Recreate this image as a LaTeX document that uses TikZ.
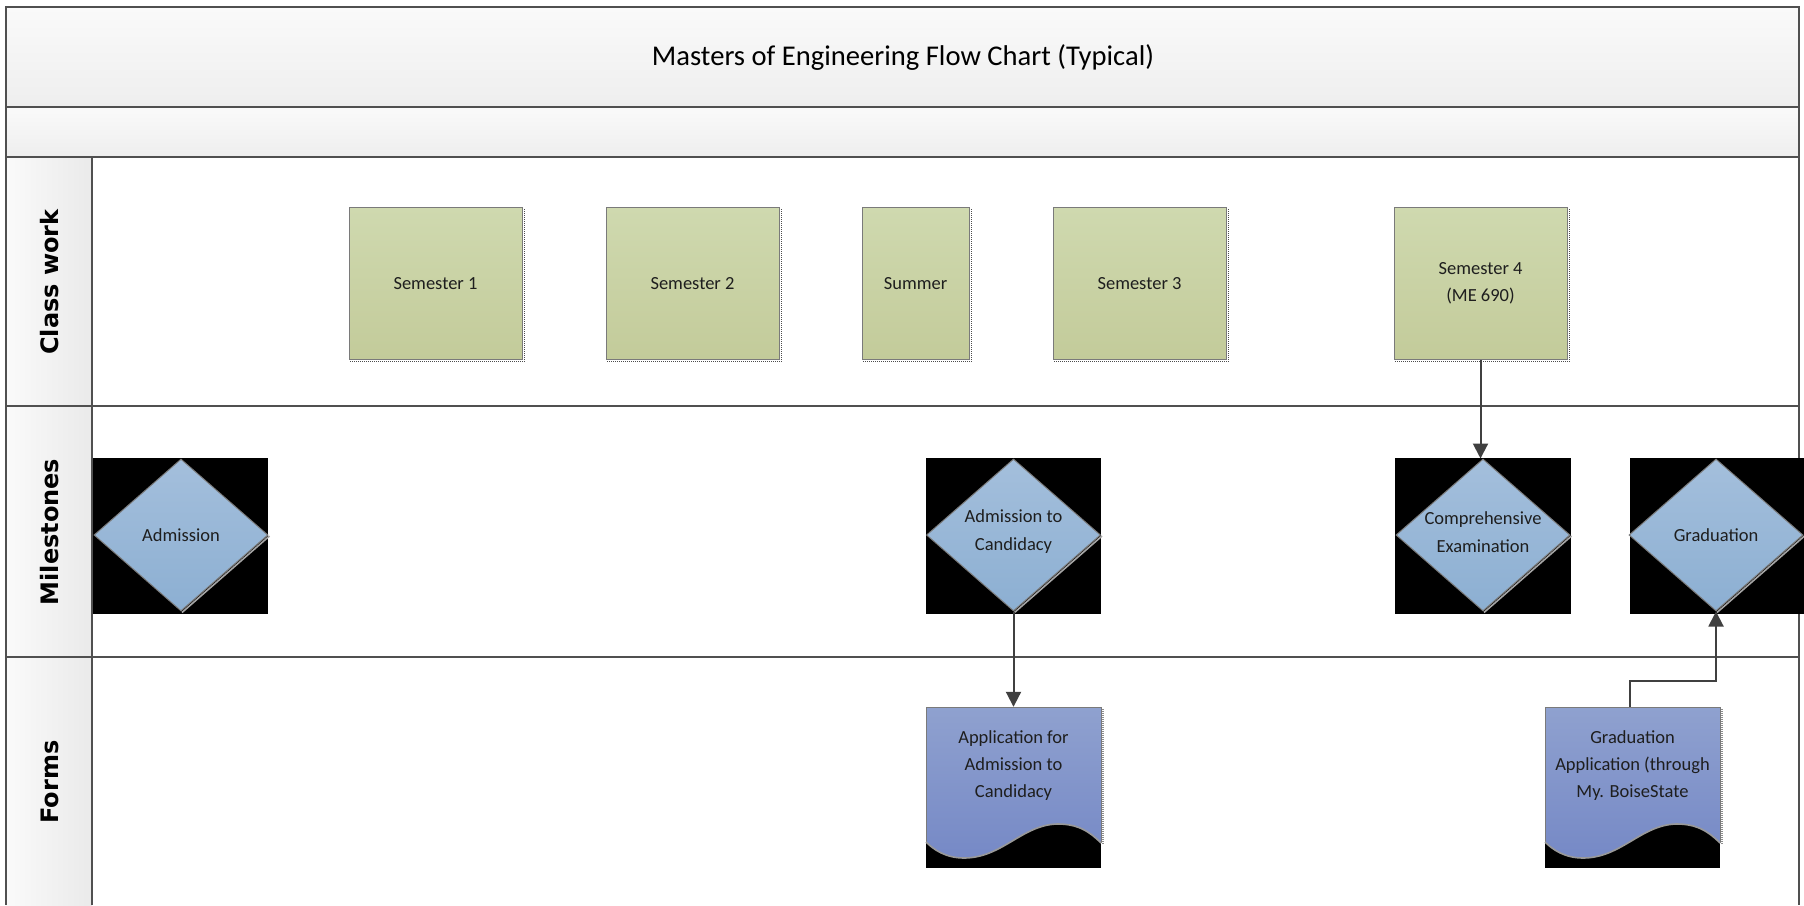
\documentclass[tikz,border=0pt]{standalone}
\usepackage{fontspec}
\setmainfont{Carlito}
\newfontfamily\lanefont{DejaVu Sans}
\usetikzlibrary{shapes.geometric,arrows.meta,calc}
\definecolor{framec}{HTML}{505050}
\definecolor{bandT}{HTML}{FAFAFA}
\definecolor{bandB}{HTML}{EEEEEE}
\definecolor{laneL}{HTML}{FAFAFA}
\definecolor{laneR}{HTML}{EAEAEA}
\definecolor{greenT}{HTML}{CFD9AF}
\definecolor{greenB}{HTML}{C3CB9A}
\definecolor{blueT}{HTML}{A4BFDC}
\definecolor{blueB}{HTML}{8CAFD2}
\definecolor{docT}{HTML}{8FA1CF}
\definecolor{docB}{HTML}{7689C6}
\definecolor{edgec}{HTML}{7A7A7A}
\definecolor{arrc}{HTML}{404040}
\definecolor{txtc}{HTML}{1E1E1E}
\tikzset{
  frameline/.style={draw=framec, line width=2.2pt},
  gbox/.style={rectangle, draw=edgec, line width=1pt, top color=greenT, bottom color=greenB,
    inner sep=0pt, align=center, text=txtc, font=\fontsize{18.5}{27}\selectfont},
  dbox/.style={diamond, draw=edgec, line width=1pt, top color=blueT, bottom color=blueB,
    inner sep=0pt, minimum width=174pt, minimum height=152pt},
  ntext/.style={align=center, text=txtc, inner sep=0pt, font=\fontsize{18.5}{28}\selectfont},
  docnode/.style={rectangle, inner sep=0pt, minimum width=175pt, minimum height=161pt},
  lanelabel/.style={rotate=90, text=black, font=\lanefont\bfseries\fontsize{24}{28}\selectfont},
  arr/.style={draw=arrc, line width=2pt, -{Triangle[width=15pt,length=15pt]}},
}
\newcommand{\mydocshape}[2]{%
  \fill[black] (#1,#2+112) rectangle (#1+175,#2+161);
  \shade[top color=docT,bottom color=docB] (#1,#2) -- (#1+175,#2) -- (#1+175,#2+136)
    .. controls (#1+160,#2+121) and (#1+148,#2+117) .. (#1+131,#2+117)
    .. controls (#1+96,#2+118) and (#1+76,#2+151) .. (#1+38,#2+151)
    .. controls (#1+20,#2+151) and (#1+8,#2+143) .. (#1,#2+135) -- cycle;
  \draw[edgec, line width=1pt] (#1,#2+135) -- (#1,#2) -- (#1+175,#2) -- (#1+175,#2+136);
  \draw[black!40, line width=1.6pt] (#1+175,#2+136)
    .. controls (#1+160,#2+121) and (#1+148,#2+117) .. (#1+131,#2+117)
    .. controls (#1+96,#2+118) and (#1+76,#2+151) .. (#1+38,#2+151)
    .. controls (#1+20,#2+151) and (#1+8,#2+143) .. (#1,#2+135);
  \draw[black!45, line width=1.2pt, dash pattern=on 1pt off 1pt] (#1+177,#2+2) -- (#1+177,#2+137);
}
\newcommand{\myblackbg}[2]{\fill[black] (#1,458) rectangle (#2,614);}
\newcommand{\mydshadow}[1]{\draw[black!35, line width=1.6pt] ($(#1.east)+(1,1)$) -- ($(#1.south)+(1,1)$);}
\begin{document}
\begin{tikzpicture}[x=1pt,y=-1pt]
\useasboundingbox (0,0) rectangle (1804,905);
\fill[white] (0,0) rectangle (1804,905);
% bands
\shade[top color=bandT, bottom color=bandB] (6,7) rectangle (1799,107);
\shade[top color=bandT, bottom color=bandB] (6,107) rectangle (1799,157);
\shade[left color=laneL, right color=laneR] (6,157) rectangle (92,905);
% frame lines
\draw[frameline] (6,905) -- (6,7) -- (1799,7) -- (1799,905);
\draw[frameline] (6,107) -- (1799,107);
\draw[frameline] (6,157) -- (1799,157);
\draw[frameline] (6,406) -- (1799,406);
\draw[frameline] (6,657) -- (1799,657);
\draw[frameline] (92,157) -- (92,905);
% title
\node[text=black, font=\fontsize{28.6}{32}\selectfont] (title) at (903,57) {Masters of Engineering Flow Chart (Typical)};
% lane labels
\node[lanelabel] (lcw) at (50,282) {Class work};
\node[lanelabel] (lms) at (50,532) {Milestones};
\node[lanelabel] (lfm) at (50,782) {Forms};
% class work boxes
\node[gbox, minimum width=173pt, minimum height=152pt] (sem1) at (435.5,283.5) {Semester 1};
\node[gbox, minimum width=173pt, minimum height=152pt] (sem2) at (692.5,283.5) {Semester 2};
\node[gbox, minimum width=107pt, minimum height=152pt] (summer) at (915.5,283.5) {Summer};
\node[gbox, minimum width=173pt, minimum height=152pt] (sem3) at (1139.5,283.5) {Semester 3};
\node[gbox, minimum width=173pt, minimum height=152pt] (sem4) at (1480.5,283.5) {Semester 4\\(ME 690)};
\foreach \n in {sem1,sem2,summer,sem3,sem4}{
  \draw[black!70, line width=1pt, densely dotted] ($(\n.north east)+(1.5,2)$) -- ($(\n.south east)+(1.5,1.5)$) -- ($(\n.south west)+(1,1.5)$);
}
% milestones
\myblackbg{93}{268}
\myblackbg{926}{1101}
\myblackbg{1395}{1571}
\myblackbg{1630}{1804}
\node[dbox] (adm) at (181,535) {};
\node[dbox] (cand) at (1013.5,535) {};
\node[dbox] (comp) at (1483,535) {};
\node[dbox] (grad) at (1716,535) {};
\foreach \n in {adm,cand,comp,grad}{\mydshadow{\n}}
\node[ntext] (tadm) at (adm) {Admission};
\node[ntext] (tcand) at (1013.5,532) {Admission to\\Candidacy};
\node[ntext] (tcomp) at (1483,532) {Comprehensive\\Examination};
\node[ntext] (tgrad) at (1716,535) {Graduation};
% forms
\mydocshape{926}{707}
\mydocshape{1545}{707}
\node[docnode] (app1) at (1013.5,787.5) {};
\node[docnode] (app2) at (1632.5,787.5) {};
\node[ntext, font=\fontsize{18.5}{27}\selectfont] (tapp1) at ($(app1.north)+(0,59)$) {Application for\\Admission to\\Candidacy};
\node[ntext, font=\fontsize{18.5}{27}\selectfont] (tapp2) at ($(app2.north)+(0,59)$) {Graduation\\Application (through\\My. BoiseState};
% connectors
\draw[arr] (sem4.south) -- (sem4.south |- comp.north);
\draw[arr] (cand.south) -- (cand.south |- app1.north);
\draw[arr] ($(app2.north)+(-3,0)$) -- ++(0,-26) -| (grad.south);
\end{tikzpicture}
\end{document}
